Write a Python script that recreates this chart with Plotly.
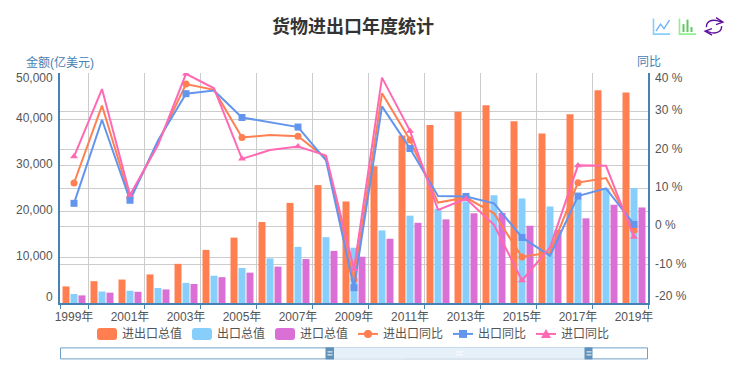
import plotly.graph_objects as go

years = list(range(1999, 2020))
total = [3606, 4743, 5097, 6208, 8510, 11546, 14219, 17604, 21761, 25632, 22075, 29740, 36419, 38671, 41590, 43015, 39530, 36856, 41045, 46224, 45761]
export = [1949, 2492, 2661, 3256, 4382, 5933, 7620, 9689, 12205, 14307, 12016, 15778, 18984, 20487, 22090, 23423, 22735, 20976, 22635, 24867, 24990]
imports = [1657, 2251, 2436, 2952, 4128, 5612, 6600, 7915, 9556, 11326, 10059, 13962, 17435, 18184, 19500, 19592, 16796, 15879, 18410, 21357, 20771]
total_yoy = [11.3, 31.5, 7.4, 21.8, 37.1, 35.6, 23.2, 23.8, 23.5, 17.8, -13.9, 34.7, 22.5, 6.2, 7.5, 3.4, -8.0, -6.8, 11.4, 12.6, -1.0]
export_yoy = [6.0, 27.8, 6.8, 22.4, 34.6, 35.4, 28.4, 27.2, 25.9, 17.2, -16.0, 31.3, 20.3, 7.9, 7.8, 6.0, -2.9, -7.7, 7.9, 9.9, 0.5]
import_yoy = [18.2, 35.8, 8.2, 21.2, 39.8, 36.0, 17.6, 19.9, 20.8, 18.5, -11.2, 38.8, 24.9, 4.3, 7.2, 0.4, -14.1, -5.5, 15.9, 15.8, -2.8]
left_ticks = [0, 10000, 20000, 30000, 40000, 50000]
right_ticks = [-20, -10, 0, 10, 20, 30, 40]
label_years = years[::2]

C_TOTAL, C_EXP, C_IMP = "#FF7F50", "#87CEFA", "#DA70D6"
L_TOTAL, L_EXP, L_IMP = "#FF7F50", "#6495ED", "#FF69B4"
AXIS = "#4682B4"
GRID = "#cccccc"
TEXT = "#555555"
FONT = "Liberation Sans, Noto Sans CJK SC, sans-serif"
W, H = 744, 366
L, R, T, B = 60, 648, 73, 303.5


def px(x):
    return (x - L) / (R - L)


def py(y):
    return (B - y) / (B - T)


def path(pts, close=False):
    s = "M" + " L".join(f"{px(x)},{py(y)}" for x, y in pts)
    return s + (" Z" if close else "")


fig = go.Figure()
for name, vals, col in [("进出口总值", total, C_TOTAL), ("出口总值", export, C_EXP), ("进口总值", imports, C_IMP)]:
    fig.add_trace(go.Bar(x=years, y=vals, name=name, marker=dict(color=col, line=dict(width=0))))
for name, vals, col, sym in [("进出口同比", total_yoy, L_TOTAL, "circle"), ("出口同比", export_yoy, L_EXP, "square"), ("进口同比", import_yoy, L_IMP, "triangle-up")]:
    cols = [col if i % 2 == 0 else "rgba(0,0,0,0)" for i in range(len(years))]
    fig.add_trace(go.Scatter(x=years, y=vals, name=name, yaxis="y2", mode="lines+markers",
                             line=dict(color=col, width=2),
                             marker=dict(symbol=sym, size=7, color=cols, line=dict(width=0))))

ann = []
for v in left_ticks:
    shift = {50000: -5, 0: 6}.get(v, 1)
    ann.append(dict(x=0, xref="paper", y=v, yref="y", text=f"{v:,}", showarrow=False, xanchor="right", yanchor="middle",
                    xshift=-5, yshift=shift, font=dict(size=12, color=TEXT, family=FONT)))
for v in right_ticks:
    shift = {40: -5, -20: 7}.get(v, 1)
    ann.append(dict(x=1, xref="paper", y=v, yref="y2", text=f"{v} %", showarrow=False, xanchor="left", yanchor="middle",
                    xshift=5, yshift=shift, font=dict(size=12, color=TEXT, family=FONT)))
ann.append(dict(x=px(60), y=py(62), xref="paper", yref="paper", text="金额(亿美元)", showarrow=False,
                xanchor="center", yanchor="middle", font=dict(size=12, color=AXIS, family=FONT)))
ann.append(dict(x=px(649), y=py(62), xref="paper", yref="paper", text="同比", showarrow=False,
                xanchor="center", yanchor="middle", font=dict(size=12, color=AXIS, family=FONT)))

shapes = []
def line(pts, color, width, close=False, fill=None):
    s = dict(type="path", xref="paper", yref="paper", path=path(pts, close), line=dict(color=color, width=width), layer="above")
    if fill:
        s["fillcolor"] = fill
    shapes.append(s)

def rect(x0, y0, x1, y1, fill, color=None, width=0):
    shapes.append(dict(type="rect", xref="paper", yref="paper", x0=px(x0), x1=px(x1), y0=py(y0), y1=py(y1),
                       fillcolor=fill, line=dict(color=color or fill, width=width), layer="above"))

def rrect(x0, y0, x1, y1, fill, r=3):
    d = (f"M{px(x0+r)},{py(y0)} L{px(x1-r)},{py(y0)} Q{px(x1)},{py(y0)} {px(x1)},{py(y0+r)} "
         f"L{px(x1)},{py(y1-r)} Q{px(x1)},{py(y1)} {px(x1-r)},{py(y1)} L{px(x0+r)},{py(y1)} "
         f"Q{px(x0)},{py(y1)} {px(x0)},{py(y1-r)} L{px(x0)},{py(y0+r)} Q{px(x0)},{py(y0)} {px(x0+r)},{py(y0)} Z")
    shapes.append(dict(type="path", xref="paper", yref="paper", path=d, fillcolor=fill, line=dict(width=0), layer="above"))

# legend drawn to the reference's swatch geometry
LEG_Y = 334.5
for x0, name, col in [(97, "进出口总值", C_TOTAL), (192, "出口总值", C_EXP), (275, "进口总值", C_IMP)]:
    rrect(x0, LEG_Y - 6, x0 + 20, LEG_Y + 6, col)
    ann.append(dict(x=px(x0 + 25), y=py(LEG_Y), xref="paper", yref="paper", text=name, showarrow=False, xanchor="left", yanchor="middle",
                    font=dict(size=12, color=TEXT, family=FONT), borderpad=0, xshift=-1))
for x0, name, col, sym in [(358, "进出口同比", L_TOTAL, "c"), (453, "出口同比", L_EXP, "s"), (536, "进口同比", L_IMP, "t")]:
    line([(x0, LEG_Y), (x0 + 20, LEG_Y)], col, 2)
    cx = x0 + 10
    if sym == "c":
        shapes.append(dict(type="circle", xref="paper", yref="paper", x0=px(cx - 4), x1=px(cx + 4), y0=py(LEG_Y - 4), y1=py(LEG_Y + 4),
                           fillcolor=col, line=dict(width=0), layer="above"))
    elif sym == "s":
        rect(cx - 4, LEG_Y - 4, cx + 4, LEG_Y + 4, col)
    else:
        line([(cx, LEG_Y - 5), (cx + 5, LEG_Y + 4), (cx - 5, LEG_Y + 4)], col, 0, close=True, fill=col)
    ann.append(dict(x=px(x0 + 25), y=py(LEG_Y), xref="paper", yref="paper", text=name, showarrow=False, xanchor="left", yanchor="middle",
                    font=dict(size=12, color=TEXT, family=FONT), borderpad=0, xshift=-1))

# data zoom slider
rect(60.5, 348.5, 647.5, 359.5, "#ffffff", "#6f9fc6", 1)
rect(334, 348, 585, 360, "#e6f0f9")
rect(405, 358.5, 585, 360, "#dbe5ee")
rect(334, 358.5, 405, 360, "#e0eaf3")
rect(325.5, 348, 334, 360, "#5f91bb")
rect(584.5, 348, 592.5, 360, "#5f91bb")
for hx in (330, 589):
    rect(hx - 2.5, 352, hx + 2.5, 353, "#ffffff")
    rect(hx - 2.5, 355, hx + 2.5, 356, "#ffffff")
rect(456, 352, 463, 353, "#ffffff")
rect(456, 355, 463, 356, "#ffffff")

# toolbox icons
line([(653.5, 18.5), (653.5, 34), (670, 34)], "#87CEFA", 1.6)
line([(656, 31), (660.5, 24), (664, 28.5), (669.5, 20)], "#6CB2F5", 1.4)
line([(679.5, 18.5), (679.5, 34), (696, 34)], "#90EE90", 1.6)
rect(682.5, 24, 684.5, 32, "#62C462")
rect(686.5, 19.5, 688.5, 32, "#62C462")
rect(690.5, 27, 692.5, 32, "#62C462")
def q(a, b, c):
    return f"{px(a[0])},{py(a[1])} {px(b[0])},{py(b[1])} {px(c[0])},{py(c[1])}"
PURPLE = "#5A0F9E"
for d in [
    f"M{px(706.5)},{py(27)} C{q((706,22),(711,19),(717,20.5))} L{px(722)},{py(22)}",
    f"M{px(721.5)},{py(26)} C{q((722,31),(717,34),(711,32.5))} L{px(706)},{py(31)}",
]:
    shapes.append(dict(type="path", xref="paper", yref="paper", path=d, line=dict(color=PURPLE, width=1.4), layer="above"))
line([(716, 17.5), (723, 22), (716, 24.5)], PURPLE, 1.3)
line([(712, 28.5), (705, 31), (712, 35)], PURPLE, 1.3)

fig.update_layout(
    width=W, height=H, autosize=False,
    margin=dict(l=L, r=W - R, t=T, b=H - B, pad=0),
    paper_bgcolor="#ffffff", plot_bgcolor="#ffffff",
    font=dict(family=FONT, size=12, color=TEXT),
    title=dict(text="<b>货物进出口年度统计</b>", x=353 / W, xanchor="center", y=1 - 27 / H, yanchor="middle",
               font=dict(size=18, color="#333333", family=FONT)),
    barmode="group", bargap=1 / 7, bargroupgap=0.125,
    hovermode=False,
    showlegend=False,
    xaxis=dict(type="linear", range=[1998.5, 2019.5], tickmode="array", tickvals=label_years,
               ticktext=[f"{y}年" for y in label_years], ticks="", showgrid=False, zeroline=False,
               showline=True, linecolor=AXIS, linewidth=2, tickfont=dict(size=12, color=TEXT), ticklabelstandoff=2,
               minor=dict(tickmode="array", tickvals=[1998.5] + [y + 0.5 for y in label_years], showgrid=True,
                          gridcolor=GRID, gridwidth=1, ticks="outside", ticklen=4, tickcolor=AXIS, tickwidth=1)),
    yaxis=dict(range=[0, 50000], tickmode="array", tickvals=left_ticks, showticklabels=False, ticks="",
               gridcolor=GRID, gridwidth=1, zeroline=False, showline=True, linecolor=AXIS, linewidth=2),
    yaxis2=dict(range=[-20, 40], overlaying="y", side="right", tickmode="array", tickvals=right_ticks, showticklabels=False, ticks="",
                showgrid=True, gridcolor=GRID, gridwidth=1, zeroline=False, showline=True, linecolor=AXIS, linewidth=2),
    annotations=ann, shapes=shapes,
)
fig.write_html("out.html", config={"displayModeBar": False},
               post_script="document.body.style.margin='0';document.body.style.overflow='hidden';")
